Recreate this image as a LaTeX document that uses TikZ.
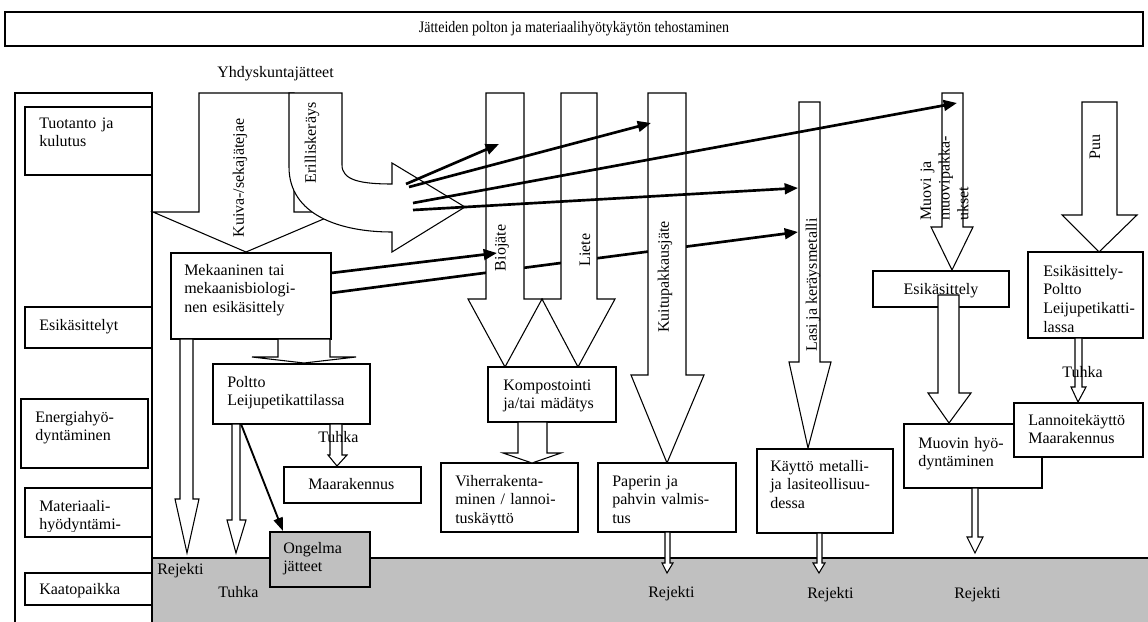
\documentclass[tikz,border=0pt]{standalone}
\usepackage{fontspec}
\setmainfont{Liberation Serif}
\usepackage{tikz}
\usetikzlibrary{arrows.meta,fit}
\definecolor{landfill}{RGB}{192,192,192}
\tikzset{
  wbox/.style    = {rectangle, draw=black, fill=white, line width=0.8pt, inner sep=0pt},
  gbox/.style    = {wbox, fill=landfill},
  txt/.style     = {anchor=base west, inner sep=0pt, align=left, text width=140pt,
                    font=\fontsize{12}{14}\selectfont},
  lbl/.style     = {inner sep=0pt, font=\fontsize{12}{14}\selectfont},
  vtxt/.style    = {lbl, rotate=90},
  blk/.style     = {draw=black, fill=white, line width=0.8pt, line join=miter},
  arr/.style     = {-{Triangle[length=10pt, width=8pt]}, line width=2pt},
  arrthin/.style = {-{Triangle[length=10pt, width=7pt]}, line width=1.4pt},
}
% block arrow pointing down: shaft x1 x2, top, head base, wing x1 x2, tip x y
\newcommand{\blockdown}[8]{%
  \draw[blk] (#1,#3) -- (#1,#4) -- (#5,#4) -- (#7,#8) -- (#6,#4) -- (#2,#4) -- (#2,#3) -- cycle;}

\begin{document}
\begin{tikzpicture}[x=0.75pt, y=-0.75pt]
\useasboundingbox (0,0) rectangle (1148,621);

% landfill band
\node[gbox, fit={(152,558) (1152,628)}] (band) {};

% title
\node[wbox, line width=1.2pt, fit={(5,12) (1143,46)}] (title) {};
\node[lbl] (title-t) at (title) {\scalebox{0.875}[1]{Jätteiden polton ja materiaalihyötykäytön tehostaminen}};
\node[txt] (yhd) at (217,77) {Yhdyskuntajätteet};

% stage column
\node[wbox, fit={(15,93) (152,628)}] (stages) {};
\node[wbox, fit={(25,107) (152,175)}] (tuot) {};
\node[txt] (tuot-t) at (39,128) {Tuotanto ja\\kulutus};
\node[wbox, fit={(25,307) (152,348)}] (esik) {};
\node[txt] (esik-t) at (39,330) {Esikäsittelyt};
\node[wbox, fit={(21,399) (148,468)}] (energ) {};
\node[txt] (energ-t) at (35,422) {Energiahyö-\\dyntäminen};
\node[wbox, fit={(25,488) (152,537)}] (mater) {};
\begin{scope}
  \clip (25,488) rectangle (152,531);
  \node[txt] (mater-t) at (39,511) {Materiaali-\\hyödyntämi-};
\end{scope}
\node[wbox, fit={(25,573) (152,605)}] (kaato) {};
\node[txt] (kaato-t) at (39,594) {Kaatopaikka};

% mechanical line -> glass/metal (runs under the stream arrows)
\coordinate (mek-b) at (331,293);
\coordinate (lasi-b) at (798,232);
\draw[arr] (mek-b) -- (lasi-b);

% waste streams
\draw[blk] (199,93) -- (199,212) -- (153,212) -- (246,252) -- (340,212) -- (294,212) -- (294,93) -- cycle;
\draw[blk] (289,93) -- (342,93) -- (342,165) .. controls (342,180) and (360,184) .. (392,184)
  -- (392,163) -- (465,207) -- (392,252) -- (392,232) .. controls (340,232) and (289,215) .. (289,167) -- cycle;
\blockdown{486}{524}{93}{299}{468}{542}{505}{367}
\blockdown{561}{597}{93}{299}{542}{615}{578}{367}
\blockdown{648}{686}{93}{375}{631}{704}{667}{463}
\blockdown{799}{820}{102}{362}{789}{831}{808}{448}
\blockdown{942}{963}{93}{227}{931}{973}{952}{270}
\blockdown{1082}{1117}{102}{215}{1062}{1137}{1099}{252}

\node[vtxt] (kuiva) at (240,178) {Kuiva-/sekajätejae};
\node[vtxt] (erill) at (312,143) {Erilliskeräys};
\node[vtxt] (bio) at (502,248) {Biojäte};
\node[vtxt] (liete) at (585,250) {Liete};
\node[vtxt] (kuitu) at (665,277) {Kuitupakkausjäte};
\node[vtxt] (lasi) at (813,285) {Lasi ja keräysmetalli};
\node[vtxt] (puu) at (1095,147) {Puu};
\node[txt, rotate=90, text width=90pt] (muovi) at (931,221) {Muovi ja\\muovipakka-\\ukset};

% separate collection -> streams
\coordinate (sel-a) at (406,184);
\coordinate (sel-b) at (409,187);
\coordinate (sel-c) at (413,203);
\coordinate (sel-d) at (413,210);
\coordinate (mek-a) at (331,273);
\coordinate (bio-a) at (499,144);
\coordinate (kuitu-a) at (651,123);
\coordinate (muovi-a) at (957,103);
\coordinate (lasi-a) at (798,188);
\coordinate (bio-b) at (497,253);
\draw[arr] (sel-a) -- (bio-a);
\draw[arr] (sel-b) -- (kuitu-a);
\draw[arr] (sel-c) -- (muovi-a);
\draw[arr] (sel-d) -- (lasi-a);
\draw[arr] (mek-a) -- (bio-b);

% treatment and use
\node[wbox, fit={(171,253) (331,339)}] (mek) {};
\node[wbox, fit={(213,364) (370,424)}] (poltto) {};
\node[wbox, fit={(284,467) (421,503)}] (maarak) {};
\node[gbox, fit={(270,532) (370,587)}] (ongelma) {};
\node[wbox, fit={(488,367) (616,422)}] (komp) {};
\node[wbox, fit={(441,463) (578,532)}] (viher) {};
\node[wbox, fit={(598,463) (736,532)}] (paperi) {};
\node[wbox, fit={(757,449) (893,533)}] (kaytto) {};
\node[wbox, fit={(873,271) (1009,307)}] (esikm) {};
\node[wbox, fit={(904,424) (1042,488)}] (muovin) {};
\node[wbox, fit={(1028,252) (1143,338)}] (esikp) {};
\node[wbox, fit={(1014,403) (1143,457)}] (lannoite) {};

% flows between boxes
\blockdown{180}{193}{339}{499}{175}{199}{187}{553}
\blockdown{232}{240}{424}{520}{227}{246}{236}{553}
\blockdown{278}{330}{339}{357}{252}{356}{304}{363}
\blockdown{330}{342}{424}{455}{328}{347}{337}{466}
\blockdown{518}{547}{422}{453}{503}{561}{532}{463}
\blockdown{665}{670}{532}{563}{662}{673}{667}{573}
\blockdown{817}{822}{533}{563}{813}{825}{819}{573}
\blockdown{972}{978}{488}{537}{967}{983}{975}{553}
\blockdown{1075}{1082}{338}{387}{1071}{1086}{1078}{402}
\blockdown{938}{959}{295}{393}{928}{971}{949}{423}

\coordinate (pol-a) at (241,424);
\coordinate (ong-a) at (283,531);
\draw[arrthin] (pol-a) -- (ong-a);

% box texts
\node[txt] (mek-t) at (184,275) {Mekaaninen tai\\mekaanisbiologi-\\nen esikäsittely};
\node[txt] (poltto-t) at (227,387) {Poltto\\Leijupetikattilassa};
\node[txt] (maarak-t) at (308,489) {Maarakennus};
\node[txt] (ongelma-t) at (283,553) {Ongelma\\jätteet};
\node[txt] (komp-t) at (503,390) {Kompostointi\\ja/tai mädätys};
\begin{scope}
  \clip (441,463) rectangle (578,524);
  \node[txt] (viher-t) at (455,486) {Viherrakenta-\\minen / lannoi-\\tuskäyttö};
\end{scope}
\node[txt] (paperi-t) at (612,486) {Paperin ja\\pahvin valmis-\\tus};
\node[txt] (kaytto-t) at (770,471) {Käyttö metalli-\\ja lasiteollisuu-\\dessa};
\node[lbl, anchor=base] (esikm-t) at (941,294) {Esikäsittely};
\node[txt] (muovin-t) at (918,448) {Muovin hyö-\\dyntäminen};
\begin{scope}
  \clip (1028,252) rectangle (1143,333);
  \node[txt] (esikp-t) at (1043,276) {Esikäsittely-\\Poltto\\Leijupetikatti-\\lassa};
\end{scope}
\node[txt] (lannoite-t) at (1028,425) {Lannoitekäyttö\\Maarakennus};

% flow labels
\node[txt] (tuhka-a) at (318,442) {Tuhka};
\node[txt] (tuhka-b) at (1062,377) {Tuhka};
\node[txt] (rej-a) at (157,574) {Rejekti};
\node[txt] (tuhka-c) at (218,597) {Tuhka};
\node[txt] (rej-b) at (648,597) {Rejekti};
\node[txt] (rej-c) at (807,598) {Rejekti};
\node[txt] (rej-d) at (954,598) {Rejekti};

\end{tikzpicture}
\end{document}
